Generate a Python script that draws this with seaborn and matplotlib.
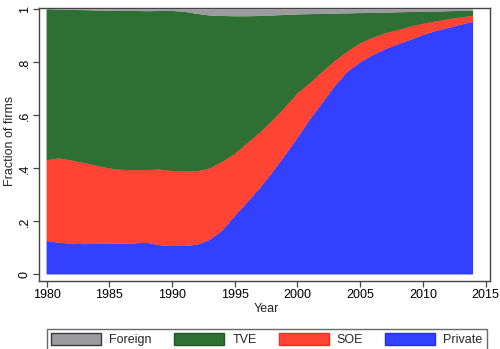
import matplotlib
matplotlib.use("Agg")
import matplotlib.pyplot as plt
from matplotlib.patches import Patch
import pandas as pd
import seaborn as sns
import seaborn.objects as so

years = list(range(1980, 2015))

# Share of firms by ownership type (each year sums to 1)
private = [0.126, 0.119, 0.116, 0.114, 0.115, 0.116, 0.116, 0.117, 0.119, 0.110,
           0.107, 0.107, 0.112, 0.130, 0.165, 0.220, 0.272, 0.325, 0.385, 0.448,
           0.515, 0.585, 0.648, 0.712, 0.765, 0.800, 0.827, 0.850, 0.868, 0.885,
           0.903, 0.918, 0.930, 0.942, 0.953]
soe = [0.305, 0.319, 0.314, 0.306, 0.295, 0.284, 0.279, 0.276, 0.275, 0.286,
       0.283, 0.281, 0.277, 0.270, 0.260, 0.235, 0.223, 0.210, 0.195, 0.182,
       0.168, 0.137, 0.117, 0.094, 0.077, 0.072, 0.066, 0.060, 0.054, 0.050,
       0.043, 0.037, 0.033, 0.028, 0.023]
tve = [0.569, 0.561, 0.568, 0.577, 0.586, 0.595, 0.599, 0.601, 0.599, 0.598,
       0.604, 0.603, 0.594, 0.577, 0.550, 0.519, 0.479, 0.440, 0.397, 0.349,
       0.298, 0.260, 0.218, 0.178, 0.143, 0.114, 0.094, 0.078, 0.067, 0.055,
       0.045, 0.037, 0.030, 0.024, 0.019]
foreign = [0.000, 0.001, 0.002, 0.003, 0.004, 0.005, 0.006, 0.006, 0.007, 0.006,
           0.006, 0.009, 0.017, 0.023, 0.025, 0.026, 0.026, 0.025, 0.023, 0.021,
           0.019, 0.018, 0.017, 0.016, 0.015, 0.014, 0.013, 0.012, 0.011, 0.010,
           0.009, 0.008, 0.007, 0.006, 0.005]

stack_order = ["Private", "SOE", "TVE", "Foreign"]
legend_order = ["Foreign", "TVE", "SOE", "Private"]
fill_colors = {"Foreign": "#9c9ca0", "TVE": "#2e6f34", "SOE": "#ff4433", "Private": "#3340ff"}
edge_colors = {"Foreign": "#3a3a3a", "TVE": "#1d5a22", "SOE": "#ff2a1a", "Private": "#1f2df5"}
yticks = [0, 0.2, 0.4, 0.6, 0.8, 1.0]
ytick_labels = ["0", ".2", ".4", ".6", ".8", "1"]
xticks = [1980, 1985, 1990, 1995, 2000, 2005, 2010, 2015]

series = {"Private": private, "SOE": soe, "TVE": tve, "Foreign": foreign}
df = pd.concat(
    [pd.DataFrame({"Year": years, "share": series[k], "type": k}) for k in stack_order],
    ignore_index=True,
)

sns.set_style("white")
plt.rcParams["font.family"] = ["Liberation Sans", "DejaVu Sans"]

fig = plt.figure(figsize=(5.0, 3.49), dpi=100)
fig.patch.set_facecolor("white")
ax = fig.add_axes([0.078, 0.1948, 0.902, 0.782])

(
    so.Plot(df, x="Year", y="share", color="type")
    .add(so.Area(alpha=1, edgealpha=1, edgewidth=1.0), so.Stack(), legend=False)
    .scale(color=so.Nominal(fill_colors, order=stack_order))
    .on(ax)
    .plot()
)

ax.set_xlim(1979.39, 2015.35)
ax.set_ylim(-0.025, 1.005)
ax.set_facecolor("white")

ax.set_yticks(yticks)
ax.set_yticklabels(ytick_labels, rotation=90, va="center")
ax.set_xticks(xticks)
ax.set_xticklabels([str(x) for x in xticks])
ax.tick_params(axis="both", which="major", direction="out", length=4.3,
               width=0.9, color="#444444", labelsize=9, labelcolor="black",
               left=True, bottom=True, pad=1.5)
ax.set_xlabel("")
ax.set_ylabel("")
for side in ["left", "bottom", "top", "right"]:
    ax.spines[side].set_visible(True)
    ax.spines[side].set_color("#444444")
    ax.spines[side].set_linewidth(1.0)

fig.text(0.020, (349 - 141) / 349, "Fraction of firms", rotation=90,
         ha="center", va="center", fontsize=9)
fig.text(0.532, (349 - 309) / 349, "Year", ha="center", va="center", fontsize=9)

handles = [Patch(facecolor=fill_colors[k], edgecolor=edge_colors[k], linewidth=1.0)
           for k in legend_order]
fig.legend(handles, legend_order, loc="lower left",
           bbox_to_anchor=(47 / 500, -0.004, 440 / 500, (349 - 324) / 349 + 0.004),
           mode="expand", ncol=4, fontsize=9, frameon=True, fancybox=False,
           edgecolor="#444444", handlelength=4.0, handleheight=1.05,
           handletextpad=0.65, borderaxespad=0, borderpad=0.35)
leg = fig.legends[0]
leg.get_frame().set_linewidth(1.0)

fig.savefig("out.png", dpi=100, facecolor="white")
